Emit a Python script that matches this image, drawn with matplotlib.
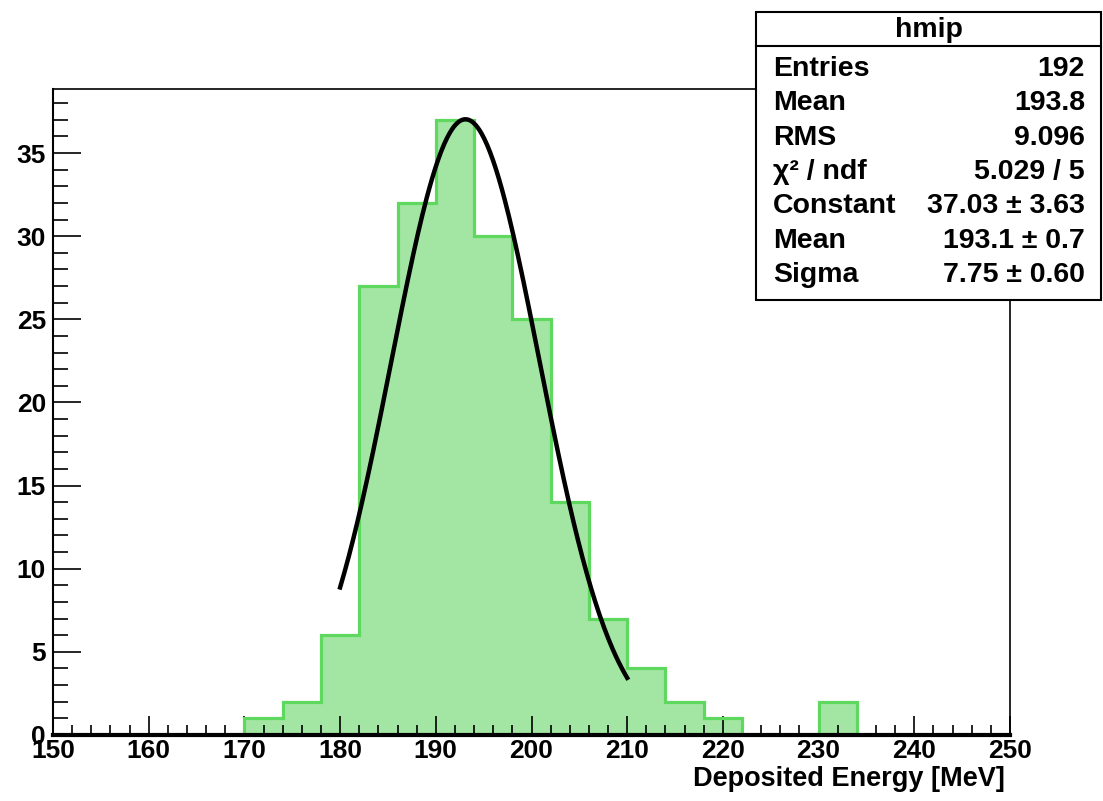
import numpy as np
import matplotlib
matplotlib.use("Agg")
import matplotlib.pyplot as plt
from matplotlib.patches import Rectangle
from matplotlib.lines import Line2D

plt.rcParams['font.family'] = ['Liberation Sans', 'DejaVu Sans']
plt.rcParams['font.weight'] = 'bold'

# histogram: 25 bins of 4 MeV from 150 to 250
bin_edges = np.arange(150, 254, 4)
counts = [0, 0, 0, 0, 0, 1, 2, 6, 27, 32, 37, 30, 25, 14, 7, 4, 2, 1, 0, 0, 2, 0, 0, 0, 0]

# gaussian fit parameters (from stats box), fit range 180-210
fit_const = 37.03
fit_mean = 193.1
fit_sigma = 7.75
fit_range = (180, 210)

stat_labels = ['Entries', 'Mean', 'RMS', 'χ² / ndf', 'Constant', 'Mean', 'Sigma']
stat_values = ['192', '193.8', '9.096', '5.029 / 5', '37.03 ± 3.63', '193.1 ± 0.7', '7.75 ± 0.60']

W, H = 1103, 801
fig = plt.figure(figsize=(W / 100, H / 100), dpi=100)
ax = fig.add_axes([53 / W, 1 - 735 / H, (1010 - 53) / W, (735 - 89) / H])

green = '#5fd85f'
fill = '#a3e6a3'
ax.stairs(counts, bin_edges, fill=True, color=fill, zorder=1)
ax.stairs(counts, bin_edges, color=green, lw=2.3, zorder=2)

xf = np.linspace(fit_range[0], fit_range[1], 200)
yf = fit_const * np.exp(-0.5 * ((xf - fit_mean) / fit_sigma) ** 2)
ax.plot(xf, yf, color='black', lw=3.2, zorder=3)

ax.set_xlim(150, 250)
ax.set_ylim(0, 1.05 * max(counts))
ax.set_xticks(np.arange(150, 251, 10))
ax.set_xticks(np.arange(150, 251, 2), minor=True)
ax.set_yticks(np.arange(0, 36, 5))
ax.set_yticks(np.arange(0, 39, 1), minor=True)
ax.tick_params(axis='x', which='major', direction='in', length=14, width=1.2, labelsize=19, pad=3)
ax.tick_params(axis='x', which='minor', direction='in', length=7, width=1.2)
ax.tick_params(axis='y', which='major', direction='in', length=20, width=1.2, labelsize=19, pad=5)
ax.tick_params(axis='y', which='minor', direction='in', length=11, width=1.2)
ax.spines['left'].set_linewidth(1.5)
ax.spines['bottom'].set_linewidth(3)
ax.spines['bottom'].set_zorder(4)
for s in ['top', 'right']:
    ax.spines[s].set_linewidth(1.2)
for lab in ax.get_xticklabels() + ax.get_yticklabels():
    lab.set_fontweight('bold')

fig.text(1005 / W, 1 - 779 / H, 'Deposited Energy [MeV]', ha='right', va='center',
         fontsize=19.5, fontweight='bold')

# stats box
bx0, bx1, by0, by1 = 756, 1101, 12, 300
fig.patches.append(Rectangle((bx0 / W, 1 - by1 / H), (bx1 - bx0) / W, (by1 - by0) / H,
                             transform=fig.transFigure, facecolor='white',
                             edgecolor='black', lw=1.5, zorder=10))
fig.lines.append(Line2D([bx0 / W, bx1 / W], [1 - 46 / H, 1 - 46 / H],
                        transform=fig.transFigure, color='black', lw=1.5, zorder=11))
fig.text((bx0 + bx1) / 2 / W, 1 - 30 / H, 'hmip', ha='center', va='center',
         fontsize=20.5, fontweight='bold', zorder=12)
for i, (lab, val) in enumerate(zip(stat_labels, stat_values)):
    y = 1 - (69 + 34.3 * i) / H
    fig.text(773 / W, y, lab, ha='left', va='center', fontsize=20.5, fontweight='bold', zorder=12)
    fig.text(1085 / W, y, val, ha='right', va='center', fontsize=20.5, fontweight='bold', zorder=12)

fig.savefig('out.png', dpi=100)
